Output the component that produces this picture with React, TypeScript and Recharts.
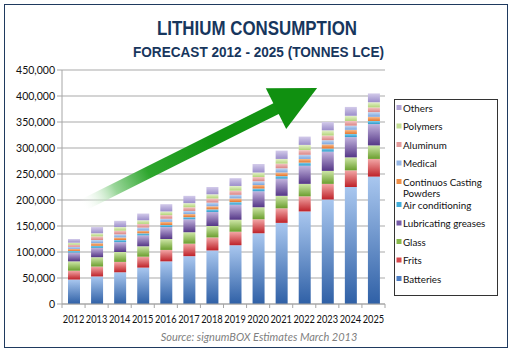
import React from 'react';
import { BarChart, Bar, XAxis, YAxis, CartesianGrid } from 'recharts';

const years = ['2012','2013','2014','2015','2016','2017','2018','2019','2020','2021','2022','2023','2024','2025'];
const batteries = [47000,53000,61000,70000,82000,92000,103000,113000,136000,156000,178000,201000,225000,245000];
const frits = [17000,19000,20000,21000,22000,24000,25000,26000,27000,28000,29000,30000,32000,34000];
const glass = [18000,18000,19000,20000,21000,22000,22000,23000,23000,24000,24000,25000,25000,26000];
const lubricating = [17000,18000,19000,21000,23000,25000,27000,29000,31000,33000,35000,37000,39000,41000];
const airConditioning = [3000,4000,4000,4000,4000,4000,5000,5000,5000,5000,6000,6000,6000,6000];
const castingPowders = [4000,5000,5000,5000,6000,6000,6000,7000,7000,7000,7000,8000,8000,8000];
const medical = [4000,6000,6000,6000,6000,6000,7000,7000,7000,8000,8000,8000,8000,9000];
const aluminum = [4000,7000,7000,7000,7000,7000,8000,8000,8000,9000,9000,9000,9000,9000];
const polymers = [4000,6000,7000,7000,7000,8000,8000,9000,9000,9000,10000,10000,10000,10000];
const others = [7000,12000,12000,13000,14000,14000,14000,15000,16000,16000,16000,16000,17000,17000];
const yTicks = [0,50000,100000,150000,200000,250000,300000,350000,400000,450000];

const series = [
  { key: 'batteries', name: 'Batteries', values: batteries, dark: '#2F60A6', light: '#A9C7EF', mid: '#4A7CC4' },
  { key: 'frits', name: 'Frits', values: frits, dark: '#BE2229', light: '#F3A7A7', mid: '#D6474C' },
  { key: 'glass', name: 'Glass', values: glass, dark: '#6A9E2E', light: '#CFE7A8', mid: '#86B84A' },
  { key: 'lubricating', name: 'Lubricating greases', values: lubricating, dark: '#553787', light: '#C3B4DE', mid: '#7459A6' },
  { key: 'airConditioning', name: 'Air conditioning', values: airConditioning, dark: '#2A9ACB', light: '#86CFEC', mid: '#41ADDA' },
  { key: 'castingPowders', name: 'Continuos Casting Powders', values: castingPowders, dark: '#E5742A', light: '#F8BE90', mid: '#F08E45' },
  { key: 'medical', name: 'Medical', values: medical, dark: '#7BA5DE', light: '#C3D8F3', mid: '#95B7E6' },
  { key: 'aluminum', name: 'Aluminum', values: aluminum, dark: '#DA8484', light: '#F4C6C6', mid: '#E49A9A' },
  { key: 'polymers', name: 'Polymers', values: polymers, dark: '#B2D478', light: '#E5F2CB', mid: '#C3DE94' },
  { key: 'others', name: 'Others', values: others, dark: '#9B8DCA', light: '#D3CBEA', mid: '#AFA3D6' },
];

const data = years.map((year, i) => {
  const row: Record<string, string | number> = { year };
  series.forEach((s) => { row[s.key] = s.values[i]; });
  return row;
});

const FONT = 'Lato, "Liberation Sans", sans-serif';
const PLOT_LEFT = 62;
const PLOT_RIGHT = 385;
const PLOT_BOTTOM = 304;
const BAND = (PLOT_RIGHT - PLOT_LEFT) / years.length;

const XTick = (props: any) => {
  const { x, payload, index } = props;
  return (
    <g>
      <line x1={x - BAND / 2} y1={PLOT_BOTTOM} x2={x - BAND / 2} y2={PLOT_BOTTOM + 4} stroke="#A6A6A6" />
      {index === years.length - 1 && (
        <line x1={x + BAND / 2} y1={PLOT_BOTTOM} x2={x + BAND / 2} y2={PLOT_BOTTOM + 4} stroke="#A6A6A6" />
      )}
      <text
        x={x}
        y={PLOT_BOTTOM + 19}
        textAnchor="middle"
        fontSize={10.5}
        fontFamily={FONT}
        fill="#111"
        textLength={21.5}
        lengthAdjust="spacingAndGlyphs"
      >
        {payload.value}
      </text>
    </g>
  );
};

const fmt = (v: number) => v.toLocaleString('en-US');

// arrow geometry (decorative)
const d = { x: 0.894, y: -0.447 };
const n = { x: 0.447, y: 0.894 };
const tail = { x: 82, y: 205.7 };
const base = { x: 276, y: 108.6 };
const hw = 6;
const headHalf = 22.8;
const headLen = 46;
const pt = (p: { x: number; y: number }) => `${p.x},${p.y}`;
const shaft = [
  { x: tail.x + n.x * hw, y: tail.y + n.y * hw },
  { x: base.x + d.x * 4 + n.x * hw, y: base.y + d.y * 4 + n.y * hw },
  { x: base.x + d.x * 4 - n.x * hw, y: base.y + d.y * 4 - n.y * hw },
  { x: tail.x - n.x * hw, y: tail.y - n.y * hw },
];
const head = [
  { x: base.x + n.x * headHalf, y: base.y + n.y * headHalf },
  { x: base.x + d.x * headLen, y: base.y + d.y * headLen },
  { x: base.x - n.x * headHalf, y: base.y - n.y * headHalf },
];

const legendOrder = [...series].reverse();
const legendY: Record<string, number> = {
  others: 108, polymers: 126.5, aluminum: 145, medical: 163.5, castingPowders: 182,
  airConditioning: 205, lubricating: 223.5, glass: 242, frits: 260.5, batteries: 279,
};

export default function App() {
  return (
    <div style={{ position: 'absolute', left: 0, top: 0, width: 513, height: 353, background: '#fff' }}>
      <BarChart
        width={513}
        height={353}
        data={data}
        margin={{ top: 70, right: 513 - PLOT_RIGHT, bottom: 29, left: 4 }}
        barSize={12}
      >
        <defs>
          {series.map((s) => (
            <linearGradient key={s.key} id={`g-${s.key}`} x1="0" y1="1" x2="0" y2="0">
              <stop offset="0" stopColor={s.dark} />
              <stop offset="1" stopColor={s.light} />
            </linearGradient>
          ))}
        </defs>
        <CartesianGrid vertical={false} stroke="#C6C6C6" strokeWidth={1.5} />
        <XAxis
          dataKey="year"
          interval={0}
          height={20}
          tickLine={false}
          axisLine={{ stroke: '#A6A6A6' }}
          tick={<XTick />}
        />
        <YAxis
          width={58}
          domain={[0, 450000]}
          ticks={yTicks}
          tickFormatter={fmt}
          tick={{ fontSize: 10.5, fill: '#111', fontFamily: FONT }}
          axisLine={{ stroke: '#A6A6A6' }}
          tickLine={{ stroke: '#A6A6A6' }}
          tickSize={5}
          interval={0}
        />
        {series.map((s) => (
          <Bar
            key={s.key}
            dataKey={s.key}
            name={s.name}
            stackId="a"
            fill={`url(#g-${s.key})`}
            isAnimationActive={false}
          />
        ))}
      </BarChart>
      <svg
        width={513}
        height={353}
        style={{ position: 'absolute', left: 0, top: 0, pointerEvents: 'none' }}
      >
        <defs>
          <linearGradient id="arrowGrad" gradientUnits="userSpaceOnUse" x1={tail.x} y1={tail.y} x2={215} y2={139}>
            <stop offset="0" stopColor="#ffffff" stopOpacity={0} />
            <stop offset="0.25" stopColor="#9ad69a" />
            <stop offset="0.5" stopColor="#2ea62e" />
            <stop offset="1" stopColor="#129312" />
          </linearGradient>
        </defs>
        <rect x={4.5} y={4.5} width={503} height={343} fill="none" stroke="#1F3A5F" strokeWidth={1} />
        <text
          x={257}
          y={35}
          textAnchor="middle"
          fontSize={20}
          fontWeight="bold"
          fontFamily='"Liberation Sans", Arial, sans-serif'
          fill="#17365D"
          textLength={200}
          lengthAdjust="spacingAndGlyphs"
        >
          LITHIUM CONSUMPTION
        </text>
        <text
          x={258.5}
          y={57}
          textAnchor="middle"
          fontSize={14}
          fontWeight="bold"
          fontFamily='"Liberation Sans", Arial, sans-serif'
          fill="#17365D"
          textLength={251}
          lengthAdjust="spacingAndGlyphs"
        >
          FORECAST 2012 - 2025 (TONNES LCE)
        </text>
        <polygon points={shaft.map(pt).join(' ')} fill="url(#arrowGrad)" />
        <polygon points={head.map(pt).join(' ')} fill="#109010" />
        <text
          x={259}
          y={341}
          textAnchor="middle"
          fontSize={11}
          fontStyle="italic"
          fontFamily={FONT}
          fill="#7F7F7F"
        >
          Source: signumBOX Estimates March 2013
        </text>
        <rect x={394.5} y={99.5} width={103} height={196} fill="#fff" stroke="#333" strokeWidth={1} />
        {legendOrder.map((s) => {
          const y = legendY[s.key];
          const twoLines = s.key === 'castingPowders';
          return (
            <g key={s.key}>
              <rect x={396.5} y={y - 3} width={5} height={5} fill={s.mid} />
              <text x={403} y={y + 3.5} fontSize={9.8} fontFamily={FONT} fill="#111">
                {twoLines ? (
                  <>
                    <tspan x={403}>Continuos Casting</tspan>
                    <tspan x={403} dy={11.5}>Powders</tspan>
                  </>
                ) : (
                  s.name
                )}
              </text>
            </g>
          );
        })}
      </svg>
    </div>
  );
}
